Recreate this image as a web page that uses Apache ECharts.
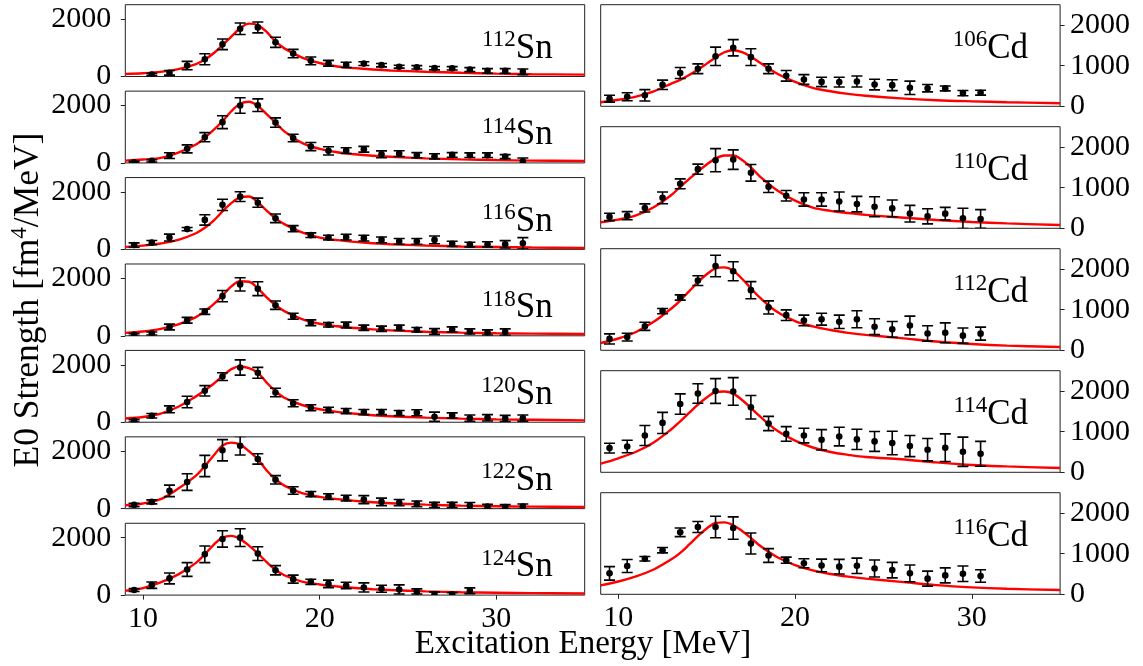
<!DOCTYPE html>
<html><head><meta charset="utf-8">
<script src="https://cdn.jsdelivr.net/npm/echarts@6/dist/echarts.min.js"></script>
<style>html,body{margin:0;padding:0;background:#fff}#c{width:1143px;height:666px}</style>
</head><body><div id="c"></div>
<script>
// ---------- tick labels ----------
const X_TICKS = [10, 20, 30];
const Y_TICKS = [0, 1000, 2000];
const X_TITLE = 'Excitation Energy [MeV]';
const Y_TITLE_A = 'E0 Strength [fm';
const Y_TITLE_SUP = '4';
const Y_TITLE_B = '/MeV]';

// ---------- energies ----------
const E_SN = [9.5,10.5,11.5,12.5,13.5,14.5,15.5,16.5,17.5,18.5,19.5,20.5,21.5,22.5,23.5,24.5,25.5,26.5,27.5,28.5,29.5,30.5,31.5];
const E_CD = [9.5,10.5,11.5,12.5,13.5,14.5,15.5,16.5,17.5,18.5,19.5,20.5,21.5,22.5,23.5,24.5,25.5,26.5,27.5,28.5,29.5,30.5];
const E_FIT = [9,10,11,12,13,13.5,14,14.5,15,15.5,16,16.5,17,17.5,18,19,20,21,22,23,24,26,28,30,32,35];

// ---------- Sn data ----------
const SN112_VAL = [null,70,127,380,600,1120,1665,1710,1190,800,545,460,405,450,395,340,320,290,285,240,195,195,160];
const SN112_ERR = [null,40,80,145,190,185,200,190,175,145,135,100,90,65,60,50,60,60,60,70,80,80,100];
const SN112_FIT = [92,115,160,255,430,590,810,1090,1390,1680,1840,1790,1550,1220,980,660,470,350,290,245,210,165,130,100,80,65];

const SN114_VAL = [25,70,255,490,895,1420,2000,2010,1405,870,570,420,430,475,300,325,270,230,280,270,270,220,60];
const SN114_ERR = [30,40,100,140,160,225,270,220,165,130,140,145,100,100,120,100,90,90,80,80,80,70,110];
const SN114_FIT = [80,120,175,360,640,880,1150,1450,1800,2060,2130,1980,1700,1400,1100,700,490,370,300,250,215,160,125,100,82,65];

const SN116_VAL = [150,235,410,705,1025,1550,1835,1625,1080,720,495,410,425,390,330,280,280,330,190,165,175,175,210];
const SN116_ERR = [75,75,120,55,180,195,170,160,150,105,80,80,100,100,100,100,100,135,90,80,90,130,200];
const SN116_FIT = [85,130,205,330,560,750,1000,1320,1610,1810,1840,1640,1350,1080,880,590,410,320,260,215,180,135,100,80,65,50];

const SN118_VAL = [35,80,305,540,840,1380,1790,1640,1065,680,455,385,375,280,245,280,210,150,220,150,115,130,null];
const SN118_ERR = [40,50,100,100,95,195,230,240,145,105,100,80,100,90,90,90,80,100,90,90,90,110,null];
const SN118_FIT = [100,150,240,400,650,860,1100,1400,1720,1900,1880,1650,1340,1070,860,580,420,330,270,225,190,140,110,90,75,60];

const SN120_VAL = [50,225,450,705,1095,1590,1905,1720,1035,660,505,425,390,355,355,320,330,190,235,140,155,130,140];
const SN120_ERR = [40,80,120,200,180,135,265,190,150,120,105,95,90,90,90,90,105,160,90,110,110,110,110];
const SN120_FIT = [130,180,300,540,900,1110,1340,1600,1850,1940,1880,1720,1380,1080,850,600,450,360,295,245,210,160,125,100,85,65];

const SN122_VAL = [130,235,620,925,1485,2035,2190,1730,1005,630,505,420,365,315,235,210,165,130,130,105,70,60,70];
const SN122_ERR = [60,70,200,290,370,370,320,180,145,130,90,100,100,140,130,110,100,90,90,110,80,80,90];
const SN122_FIT = [120,180,330,700,1150,1480,1850,2200,2300,2230,2000,1720,1330,1030,800,540,410,330,270,225,190,140,105,85,70,55];

const SN124_VAL = [175,345,580,890,1420,1955,2000,1445,865,555,460,390,335,265,220,195,125,25,25,150,null,null,null];
const SN124_ERR = [50,110,190,240,290,285,310,240,160,140,90,130,110,160,120,160,90,80,60,100,null,null,null];
const SN124_FIT = [150,245,440,720,1120,1420,1750,2000,2060,1950,1720,1450,1150,880,690,470,370,300,245,205,175,130,100,82,68,55];

// ---------- Cd data ----------
const CD106_VAL = [187,235,270,530,820,925,1230,1440,1210,925,750,660,600,595,610,535,520,455,445,440,325,335];
const CD106_ERR = [85,100,140,115,135,120,225,200,205,120,130,120,115,120,135,130,135,165,90,60,65,60];
const CD106_FIT = [100,160,240,370,560,650,770,900,1050,1200,1330,1380,1330,1220,1080,800,600,455,370,305,260,195,150,122,100,75];

const CD110_VAL = [280,310,500,750,1095,1455,1675,1690,1365,1020,800,710,710,660,595,530,490,360,295,360,245,230];
const CD110_ERR = [90,100,100,145,120,125,285,240,205,140,130,165,165,235,190,245,205,205,185,155,250,230];
const CD110_FIT = [150,215,320,520,820,1020,1210,1395,1570,1715,1790,1790,1680,1500,1280,930,680,510,430,375,330,265,205,155,120,80];

const CD112_VAL = [280,325,590,965,1300,1715,2075,1945,1480,1055,865,735,765,700,765,580,515,610,415,430,360,410];
const CD112_ERR = [125,95,100,65,65,120,265,235,210,160,130,130,145,165,210,195,195,230,190,245,190,160];
const CD112_FIT = [180,290,450,700,1030,1225,1450,1675,1870,2015,2040,1960,1760,1525,1300,940,720,590,500,430,380,300,215,155,115,80];

const CD114_VAL = [595,635,905,1215,1680,1940,2000,1990,1600,1200,945,905,800,880,810,760,720,645,555,605,505,455];
const CD114_ERR = [120,155,245,260,250,240,305,340,290,175,180,180,250,230,250,245,290,260,275,340,360,305];
const CD114_FIT = [212,345,505,735,1060,1255,1460,1665,1840,1975,1990,1935,1780,1585,1380,1020,780,610,500,430,375,320,245,180,145,105];

const CD116_VAL = [515,695,875,1085,1525,1655,1655,1630,1250,955,840,765,710,680,700,635,595,515,385,465,505,450];
const CD116_ERR = [165,160,55,65,105,135,265,275,260,170,75,110,155,180,190,210,190,205,185,185,190,155];
const CD116_FIT = [220,315,440,610,860,1020,1220,1430,1620,1755,1770,1700,1560,1390,1200,910,720,590,500,435,385,305,225,170,135,105];

// ---------- panels ----------
const SN_PANELS = [
  ['112','Sn',SN112_VAL,SN112_ERR,SN112_FIT],
  ['114','Sn',SN114_VAL,SN114_ERR,SN114_FIT],
  ['116','Sn',SN116_VAL,SN116_ERR,SN116_FIT],
  ['118','Sn',SN118_VAL,SN118_ERR,SN118_FIT],
  ['120','Sn',SN120_VAL,SN120_ERR,SN120_FIT],
  ['122','Sn',SN122_VAL,SN122_ERR,SN122_FIT],
  ['124','Sn',SN124_VAL,SN124_ERR,SN124_FIT]
];
const CD_PANELS = [
  ['106','Cd',CD106_VAL,CD106_ERR,CD106_FIT],
  ['110','Cd',CD110_VAL,CD110_ERR,CD110_FIT],
  ['112','Cd',CD112_VAL,CD112_ERR,CD112_FIT],
  ['114','Cd',CD114_VAL,CD114_ERR,CD114_FIT],
  ['116','Cd',CD116_VAL,CD116_ERR,CD116_FIT]
];

const FONT = '"Liberation Serif", "DejaVu Serif", serif';
const LEFT_X = 125.3, RIGHT_X = 600.7, PW = 459.4;
const SN_TOP0 = 4.7, SN_STEP = 86.43, SN_H = 71.8;
const CD_TOP0 = 4.7, CD_STEP = 122.0, CD_H = 101.6;

const grids = [], xAxes = [], yAxes = [], series = [], graphics = [];

function renderErr(params, api) {
  const x = api.value(0), y = api.value(1), e = api.value(2);
  const t = api.coord([x, y + e]);
  const b = api.coord([x, y - e]);
  const c = api.coord([x, y]);
  const cap = 5.5;
  const ls = {stroke: '#000', lineWidth: 1.6};
  return {type: 'group', children: [
    {type: 'line', shape: {x1: t[0], y1: t[1], x2: b[0], y2: b[1]}, style: ls},
    {type: 'line', shape: {x1: t[0]-cap, y1: t[1], x2: t[0]+cap, y2: t[1]}, style: ls},
    {type: 'line', shape: {x1: b[0]-cap, y1: b[1], x2: b[0]+cap, y2: b[1]}, style: ls},
    {type: 'circle', shape: {cx: c[0], cy: c[1], r: 3.3}, style: {fill: '#000'}}
  ]};
}

const plain = v => String(v);

function addPanel(p, energies, left, top, h, yPos, showX) {
  const idx = grids.length;
  const [mass, el, vals, errs, fit] = p;
  grids.push({left: left, top: top, width: PW, height: h, show: true,
    borderColor: '#222', borderWidth: 1, backgroundColor: '#fff'});
  xAxes.push({gridIndex: idx, type: 'value', min: 9, max: 35,
    axisLine: {show: false}, splitLine: {show: false},
    axisTick: {show: showX, customValues: X_TICKS, length: 4.5, lineStyle: {color: '#222', width: 1}},
    axisLabel: {show: showX, customValues: X_TICKS, formatter: plain, showMinLabel: true, showMaxLabel: true,
      hideOverlap: false, fontFamily: FONT, fontSize: 30, lineHeight: 22, color: '#000', margin: 13}});
  yAxes.push({gridIndex: idx, type: 'value', min: 0, max: 2500, position: yPos,
    axisLine: {show: false}, splitLine: {show: false},
    axisTick: {show: true, customValues: Y_TICKS, length: 4.5, lineStyle: {color: '#222', width: 1}},
    axisLabel: {show: true, customValues: Y_TICKS, formatter: plain, showMinLabel: true, showMaxLabel: true,
      hideOverlap: false, fontFamily: FONT, fontSize: 30, lineHeight: 22, color: '#000',
      margin: yPos === 'left' ? 14 : 10}});
  series.push({type: 'line', xAxisIndex: idx, yAxisIndex: idx, silent: true,
    data: E_FIT.map((e, k) => [e, fit[k]]), smooth: 0.35, showSymbol: false, clip: true,
    lineStyle: {color: '#ff0000', width: 2.4}, z: 2});
  const pts = [];
  energies.forEach((e, k) => { if (vals[k] !== null) pts.push([e, vals[k], errs[k]]); });
  series.push({type: 'custom', xAxisIndex: idx, yAxisIndex: idx, silent: true, clip: true,
    data: pts, renderItem: renderErr, z: 3});
  graphics.push({type: 'text', x: left + PW - 32, y: top + 24, silent: true,
    style: {text: '{s|' + mass + '}{e|' + el + '}', align: 'right', verticalAlign: 'top',
      rich: {s: {fontSize: 23, fontFamily: FONT, fill: '#000', verticalAlign: 'top', lineHeight: 24},
             e: {fontSize: 35, fontFamily: FONT, fill: '#000', lineHeight: 40}}}});
}

SN_PANELS.forEach((p, i) => addPanel(p, E_SN, LEFT_X, SN_TOP0 + i*SN_STEP, SN_H, 'left', i === SN_PANELS.length-1));
CD_PANELS.forEach((p, i) => addPanel(p, E_CD, RIGHT_X, CD_TOP0 + i*CD_STEP, CD_H, 'right', i === CD_PANELS.length-1));

graphics.push({type: 'text', x: 583, y: 644, silent: true,
  style: {text: X_TITLE, fontFamily: FONT, fontSize: 33, fill: '#000', align: 'center', verticalAlign: 'middle'}});
graphics.push({type: 'text', x: 28.5, y: 300, rotation: Math.PI/2, silent: true,
  style: {text: '{m|' + Y_TITLE_A + '}{s|' + Y_TITLE_SUP + '}{m|' + Y_TITLE_B + '}', align: 'center', verticalAlign: 'middle',
    rich: {m: {fontSize: 35.5, fontFamily: FONT, fill: '#000', lineHeight: 40},
           s: {fontSize: 23, fontFamily: FONT, fill: '#000', verticalAlign: 'top', lineHeight: 26}}}});

const chart = echarts.init(document.getElementById('c'), null, {renderer: 'canvas'});
chart.setOption({animation: false, backgroundColor: '#fff',
  grid: grids, xAxis: xAxes, yAxis: yAxes, series: series, graphic: graphics});
</script></body></html>
